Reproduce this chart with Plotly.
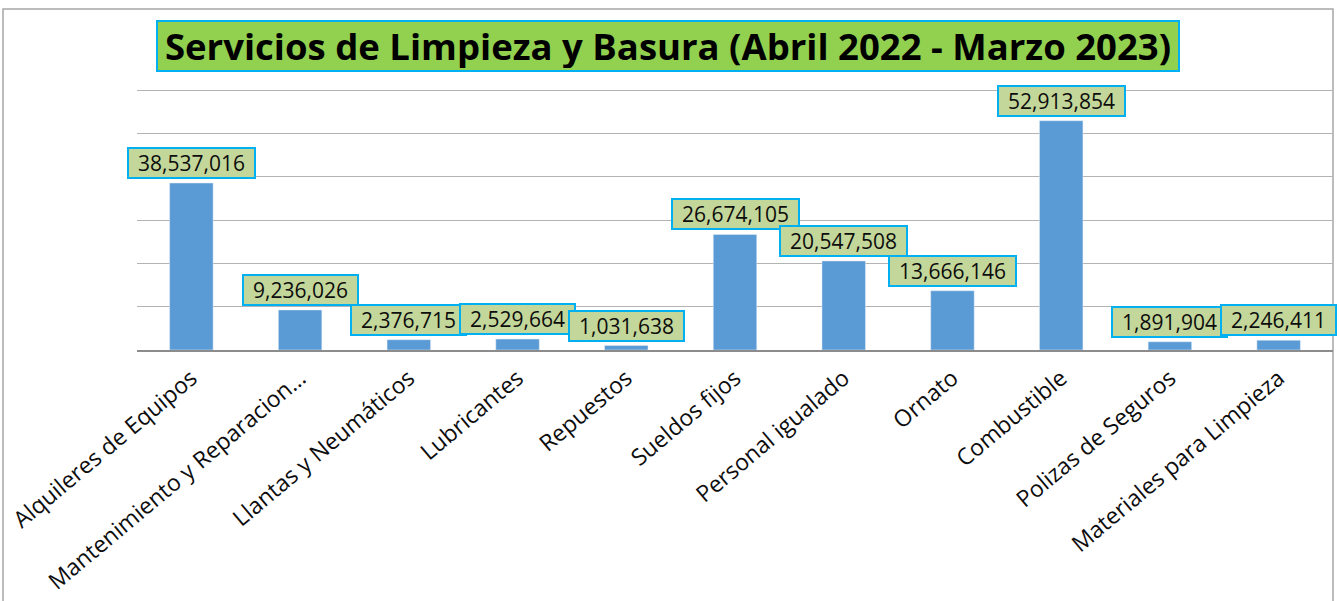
import plotly.graph_objects as go

categories = ["Alquileres de Equipos", "Mantenimiento y Reparacion…", "Llantas y Neumáticos",
              "Lubricantes", "Repuestos", "Sueldos fijos", "Personal igualado", "Ornato",
              "Combustible", "Polizas de Seguros", "Materiales para Limpieza"]
values = [38537016, 9236026, 2376715, 2529664, 1031638, 26674105, 20547508, 13666146,
          52913854, 1891904, 2246411]
title_text = "Servicios de Limpieza y Basura (Abril 2022 - Marzo 2023)"

W, H = 1339, 601
L, R, T, B = 137, 6, 85, 251
pw = W - L - R
ph = H - T - B
ymax = 60000000 * ph / (ph - 5)

fig = go.Figure()
fig.add_trace(go.Bar(x=categories, y=values, marker_color="#5b9bd5", width=0.4,
                     hoverinfo="x+y"))

annotations = []
for c, v in zip(categories, values):
    txt = f"{v:,}"
    annotations.append(dict(x=c, y=v, xref="x", yref="y", text=txt, showarrow=False,
                            yanchor="bottom", yshift=4, bgcolor="#c4d79b", bordercolor="#00b0f0",
                            borderwidth=2, borderpad=3, width=12 * len(txt) - 1, height=22,
                            font=dict(family="Open Sans", size=21, color="#0d0d0d")))

annotations.append(dict(x=(668 - L) / pw, y=(H - B - 46) / ph,
                        xref="paper", yref="paper", text=f"<b>{title_text}</b>",
                        showarrow=False, bgcolor="#92d050", bordercolor="#00b0f0",
                        borderwidth=2, borderpad=2, xanchor="center", yanchor="middle",
                        width=1016, height=44,
                        font=dict(family="Open Sans", size=36.5, color="black")))

fig.add_shape(type="rect", xref="paper", yref="paper",
              x0=(3 - L) / pw, x1=(1333 - L) / pw,
              y0=(H - B - 620) / ph, y1=(H - B - 9) / ph,
              line=dict(color="#a6a6a6", width=1.5), fillcolor="rgba(0,0,0,0)", layer="below")

fig.update_layout(
    width=W, height=H, margin=dict(l=L, r=R, t=T, b=B),
    plot_bgcolor="white", paper_bgcolor="white", showlegend=False,
    annotations=annotations,
    bargap=0.6,
    xaxis=dict(range=[-0.5, len(categories) - 0.5], autorange=False,
               tickangle=-40, tickfont=dict(family="Open Sans", size=23, color="#0d0d0d"),
               showline=True, linecolor="#8c8c8c", linewidth=1.5, ticks="", showgrid=False,
               ticklabelstandoff=4),
    yaxis=dict(range=[0, ymax], autorange=False, dtick=10000000, showticklabels=False,
               showgrid=True, gridcolor="#b3b3b3", gridwidth=1, zeroline=False,
               showline=False, ticks=""),
)

fig.write_html("out.html", config={"displayModeBar": False},
               post_script="document.body.style.margin='0';document.body.style.overflow='hidden';")
